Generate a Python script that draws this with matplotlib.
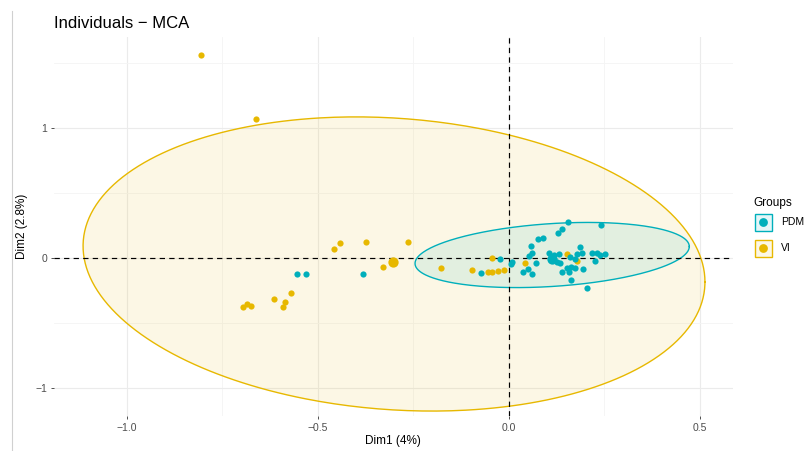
import numpy as np
import matplotlib.pyplot as plt
from matplotlib.patches import Rectangle
from matplotlib.lines import Line2D

plt.rcParams['font.family'] = ['Liberation Sans', 'DejaVu Sans']

col_pdm = "#00AFBB"
col_vi = "#E7B800"

# individuals, coordinates on Dim1 / Dim2
pdm_x = [-0.556, -0.531, -0.383, -0.074, -0.024, 0.005, 0.008, 0.155, 0.241,
         0.140, 0.129, 0.077, 0.089, 0.057, 0.186, 0.060, 0.053, 0.105, 0.119,
         0.132, 0.125, 0.134, 0.160, 0.173, 0.179, 0.191, 0.217, 0.230, 0.238,
         0.251, 0.225, 0.194, 0.072, 0.036, 0.050, 0.059, 0.138, 0.151, 0.162,
         0.173, 0.157, 0.162, 0.203]
pdm_y = [-0.125, -0.123, -0.125, -0.119, -0.008, -0.046, -0.027, 0.275, 0.254,
         0.221, 0.195, 0.144, 0.151, 0.092, 0.087, 0.036, 0.015, 0.036, 0.023,
         0.028, -0.028, -0.041, 0.010, -0.010, 0.031, 0.041, 0.036, 0.041, 0.023,
         0.028, -0.023, -0.087, -0.041, -0.105, -0.087, -0.125, -0.110, -0.079,
         -0.072, -0.079, -0.110, -0.169, -0.228]

vi_x = [-0.806, -0.661, -0.696, -0.687, -0.675, -0.616, -0.586, -0.592, -0.571,
        -0.458, -0.442, -0.374, -0.264, -0.330, -0.177, -0.096, -0.055, -0.044,
        -0.030, -0.014, -0.045, 0.042, 0.151, 0.178]
vi_y = [1.562, 1.069, -0.379, -0.354, -0.367, -0.315, -0.338, -0.379, -0.269,
        0.069, 0.113, 0.123, 0.125, -0.067, -0.077, -0.092, -0.105, -0.110,
        -0.102, -0.096, 0.002, -0.042, 0.027, -0.023]

# group centres (drawn bigger)
pdm_mean = (0.112, -0.010)
vi_mean = (-0.303, -0.028)

# confidence ellipses: centre + two half-axis vectors
ell_pdm = {"c": (0.113, 0.023), "u": (0.359, 0.065), "v": (0.0, 0.242)}
ell_vi = {"c": (-0.301, -0.046), "u": (0.814, -0.138), "v": (0.0, 1.123)}

groups = ["PDM", "VI"]

W, H = 808, 451
fig = plt.figure(figsize=(W / 100, H / 100), dpi=100)
fig.patch.set_facecolor("white")

# panel in pixel coords: x 54..732.5, y 37..416
ax = fig.add_axes([54 / W, 1 - 416 / H, (732.5 - 54) / W, (416 - 37) / H])
ax.set_xlim(-1.1911, 0.5851)
ax.set_ylim(-1.2154, 1.70)

ax.set_xticks([-1.0, -0.5, 0.0, 0.5])
ax.set_xticklabels(["\u22121.0", "\u22120.5", "0.0", "0.5"])
ax.set_xticks([-0.75, -0.25, 0.25], minor=True)
ax.set_yticks([-1, 0, 1])
ax.set_yticklabels(["\u22121", "0", "1"])
ax.set_yticks([-0.5, 0.5, 1.5], minor=True)
ax.grid(which="major", color="#EBEBEB", lw=0.8, zorder=0)
ax.grid(which="minor", color="#F4F4F4", lw=0.6, zorder=0)
ax.set_axisbelow(True)
for s in ax.spines.values():
    s.set_visible(False)
ax.tick_params(which="major", length=2.3, width=0.6, color="#333333",
               labelsize=7.5, labelcolor="#4D4D4D", pad=2.5)
ax.tick_params(which="minor", length=0)

t = np.linspace(0, 2 * np.pi, 400)
for e, col in [(ell_vi, col_vi), (ell_pdm, col_pdm)]:
    ex = e["c"][0] + e["u"][0] * np.cos(t) + e["v"][0] * np.sin(t)
    ey = e["c"][1] + e["u"][1] * np.cos(t) + e["v"][1] * np.sin(t)
    ax.fill(ex, ey, color=col, alpha=0.1, lw=0, zorder=1)
    ax.plot(ex, ey, color=col, lw=1.0, zorder=2)

ax.axhline(0, color="black", lw=0.85, ls=(0, (4.5, 3.6)), zorder=3)
ax.axvline(0, color="black", lw=0.85, ls=(0, (4.5, 3.6)), zorder=3)

ax.scatter(vi_x, vi_y, s=20, color=col_vi, lw=0, zorder=4)
ax.scatter(pdm_x, pdm_y, s=20, color=col_pdm, lw=0, zorder=4)
ax.scatter([vi_mean[0]], [vi_mean[1]], s=55, color=col_vi, lw=0, zorder=5)
ax.scatter([pdm_mean[0]], [pdm_mean[1]], s=55, color=col_pdm, lw=0, zorder=5)

# overlay in pixel coordinates for titles and legend
ov = fig.add_axes([0, 0, 1, 1], facecolor="none")
ov.set_xlim(0, W)
ov.set_ylim(H, 0)
ov.axis("off")

ov.add_line(Line2D([11.7, 11.7], [11, H], color="#D0D0D0", lw=0.8))
ov.text(54, 27.5, "Individuals \u2212 MCA", fontsize=12, color="black",
        ha="left", va="baseline")
ov.text(393, 441, "Dim1 (4%)", fontsize=8.5, ha="center", va="center")
ov.text(22, 226, "Dim2 (2.8%)", fontsize=8.5, ha="center", va="center",
        rotation=90)

ov.text(753, 203, "Groups", fontsize=8.5, ha="left", va="center")
for i, (g, col) in enumerate(zip(groups, [col_pdm, col_vi])):
    yc = 222 + i * 26
    ov.add_patch(Rectangle((754.5, yc - 8.5), 17, 17, facecolor=col,
                           alpha=0.1, lw=0))
    ov.add_patch(Rectangle((754.5, yc - 8.5), 17, 17, facecolor="none",
                           edgecolor=col, lw=1.0))
    ov.scatter([763], [yc], s=40, color=col, lw=0)
    ov.text(781, yc, g, fontsize=7.5, ha="left", va="center")

fig.savefig("out.png", dpi=100)
